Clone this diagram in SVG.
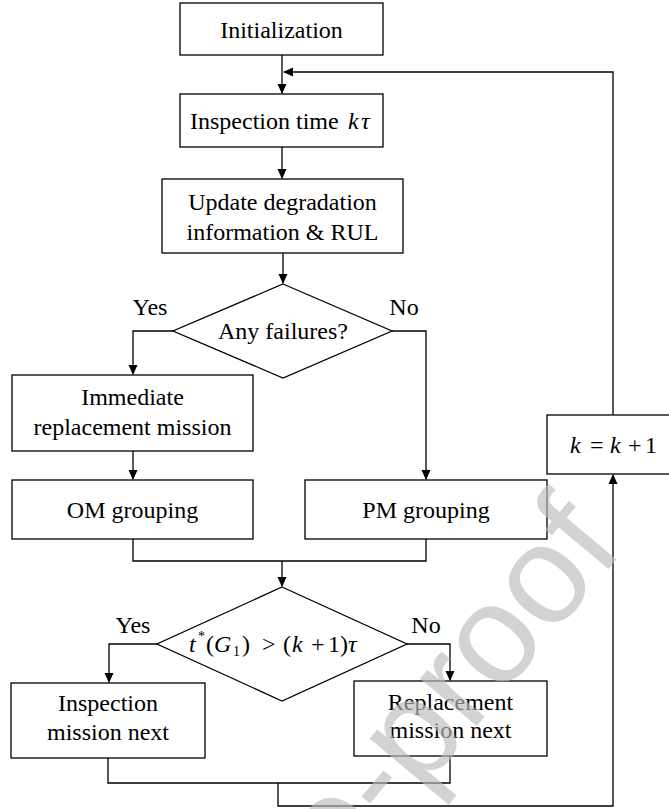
<svg xmlns="http://www.w3.org/2000/svg" width="669" height="809" viewBox="0 0 669 809">
  <defs>
    <marker id="arrow" markerWidth="10" markerHeight="10" refX="9" refY="5" orient="auto" markerUnits="userSpaceOnUse">
      <path d="M0,0.5 L10,5 L0,9.5 Z" fill="#000"/>
    </marker>
    <style>
      .box { fill: #fff; stroke: #000; stroke-width: 1.3; }
      .lbl { font-family: 'Liberation Serif', 'Times New Roman', serif; font-size: 24px; fill: #000; text-anchor: middle; }
      .math { font-family: 'Liberation Serif', 'Times New Roman', serif; font-size: 24px; fill: #000; }
      .it { font-style: italic; }
      .sm { font-size: 14px; }
      .wire { fill: none; stroke: #000; stroke-width: 1.3; }
      .wm { font-family: 'Liberation Sans', Arial, sans-serif; font-size: 140px; fill: #bbb; fill-opacity: 0.65; }
    </style>
  </defs>

  <rect width="669" height="809" fill="#fff"/>

  <!-- connectors -->
  <g id="connectors">
    <path class="wire" d="M282,55 V93" marker-end="url(#arrow)"/>
    <path class="wire" d="M613,415 V72 H284" marker-end="url(#arrow)"/>
    <path class="wire" d="M282,147 V178" marker-end="url(#arrow)"/>
    <path class="wire" d="M283,253 V283" marker-end="url(#arrow)"/>
    <path class="wire" d="M173,331 H133 V374" marker-end="url(#arrow)"/>
    <path class="wire" d="M392,331 H426 V479" marker-end="url(#arrow)"/>
    <path class="wire" d="M133,451 V479" marker-end="url(#arrow)"/>
    <path class="wire" d="M133,539 V561 H426 V539"/>
    <path class="wire" d="M282,561 V586" marker-end="url(#arrow)"/>
    <path class="wire" d="M157,644 H109 V682" marker-end="url(#arrow)"/>
    <path class="wire" d="M407,644 H450 V680" marker-end="url(#arrow)"/>
    <path class="wire" d="M108,758 V783 H450 V756"/>
    <path class="wire" d="M278,783 V806 H613 V475" marker-end="url(#arrow)"/>
  </g>

  <!-- nodes -->
  <g id="init">
    <rect class="box" x="180" y="3" width="203" height="52"/>
    <text class="lbl" x="281.5" y="37.5">Initialization</text>
  </g>

  <g id="inspection-time">
    <rect class="box" x="180" y="94" width="203" height="53"/>
    <text class="math" x="190" y="128.5">Inspection time<tspan class="it" x="348">k</tspan><tspan class="it" x="361">τ</tspan></text>
  </g>

  <g id="update">
    <rect class="box" x="162" y="179" width="241" height="74"/>
    <text class="lbl" x="282.5" y="210">Update degradation</text>
    <text class="lbl" x="282.5" y="240">information &amp; RUL</text>
  </g>

  <g id="any-failures">
    <polygon class="box" points="283,284 392,331 283,378 173,331"/>
    <text class="lbl" x="283" y="339">Any failures?</text>
  </g>

  <g id="immediate">
    <rect class="box" x="12" y="375" width="241" height="76"/>
    <text class="lbl" x="132.5" y="405">Immediate</text>
    <text class="lbl" x="132.5" y="435">replacement mission</text>
  </g>

  <g id="om">
    <rect class="box" x="12" y="480" width="241" height="59"/>
    <text class="lbl" x="132.5" y="518">OM grouping</text>
  </g>

  <g id="pm">
    <rect class="box" x="305" y="480" width="242" height="59"/>
    <text class="lbl" x="426" y="518">PM grouping</text>
  </g>

  <g id="increment">
    <rect class="box" x="547" y="415" width="140" height="59"/>
    <text class="math" y="453"><tspan class="it" x="570">k</tspan><tspan x="590">=</tspan><tspan class="it" x="610">k</tspan><tspan x="628">+</tspan><tspan x="645">1</tspan></text>
  </g>

  <g id="next-check">
    <polygon class="box" points="282,587 407,644 282,701 157,644"/>
    <text class="math" y="652"><tspan class="it" x="189">t</tspan><tspan class="sm" x="198" y="641">*</tspan><tspan x="206" y="652">(</tspan><tspan class="it" x="214">G</tspan><tspan class="sm" x="233" y="656">1</tspan><tspan x="242" y="652">)</tspan><tspan x="262">&gt;</tspan><tspan x="283">(</tspan><tspan class="it" x="292">k</tspan><tspan x="311">+</tspan><tspan x="328">1</tspan><tspan x="340">)</tspan><tspan class="it" x="348">τ</tspan></text>
  </g>

  <g id="inspection-next">
    <rect class="box" x="11" y="683" width="194" height="75"/>
    <text class="lbl" x="108" y="711">Inspection</text>
    <text class="lbl" x="108" y="740">mission next</text>
  </g>

  <g id="replacement-next">
    <rect class="box" x="354" y="681" width="193" height="75"/>
    <text class="lbl" x="450.5" y="710">Replacement</text>
    <text class="lbl" x="450.5" y="738">mission next</text>
  </g>

  <g id="branch-labels">
    <text class="lbl" x="150" y="315">Yes</text>
    <text class="lbl" x="404" y="315">No</text>
    <text class="lbl" x="133" y="633">Yes</text>
    <text class="lbl" x="426" y="633">No</text>
  </g>

  <!-- diagonal watermark -->
  <g transform="translate(548,585) rotate(-50)">
    <text class="wm" x="-366" y="36">e-proof</text>
  </g>
</svg>
